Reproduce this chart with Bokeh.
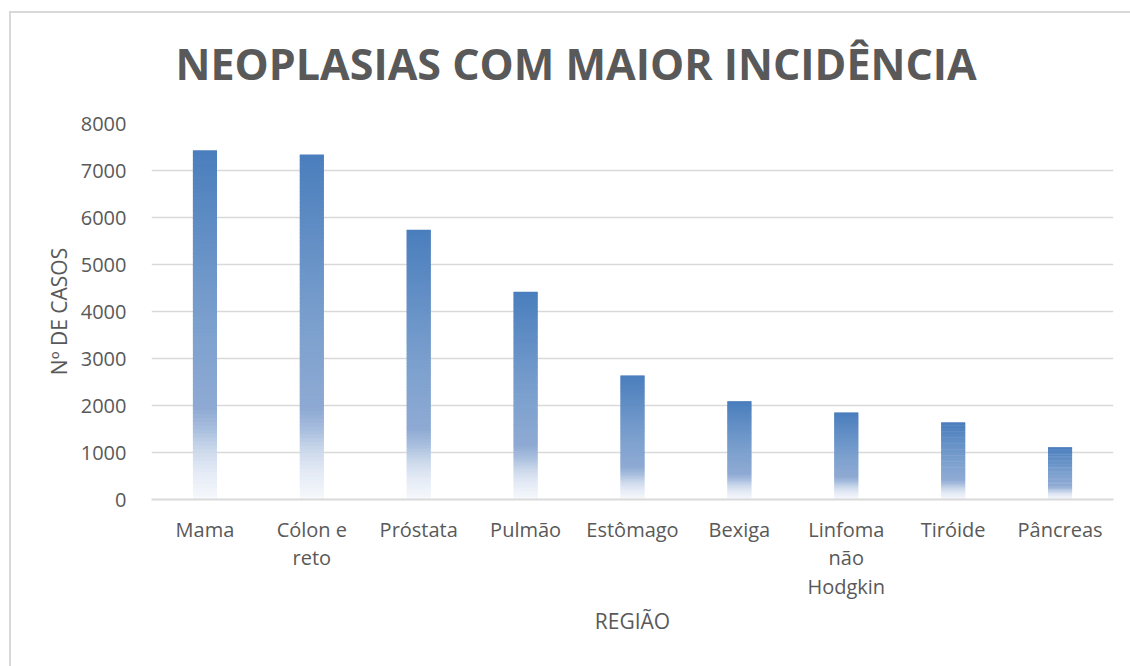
import numpy as np
from bokeh.plotting import figure
from bokeh.models import Range1d, FixedTicker, ColumnDataSource
from bokeh.embed import file_html
from bokeh.resources import INLINE

# ---- data ----
categories = ["Mama", "Cólon e reto", "Próstata", "Pulmão", "Estômago",
              "Bexiga", "Linfoma não Hodgkin", "Tiróide", "Pâncreas"]
tick_labels = ["Mama", "Cólon e\nreto", "Próstata", "Pulmão", "Estômago",
               "Bexiga", "Linfoma\nnão\nHodgkin", "Tiróide", "Pâncreas"]
casos = [7430, 7340, 5740, 4420, 2640, 2090, 1850, 1640, 1110]
y_ticks = [0, 1000, 2000, 3000, 4000, 5000, 6000, 7000, 8000]

TITLE = "NEOPLASIAS COM MAIOR INCIDÊNCIA"
X_LABEL = "REGIÃO"
Y_LABEL = "Nº DE CASOS"

# ---- style: vertical gradient stops (fraction of bar height from bottom) ----
grad_pos = [0.0, 0.08, 0.145, 0.2, 0.26, 0.5, 1.0]
grad_rgb = [(246, 249, 253), (228, 234, 245), (202, 215, 234), (169, 191, 223),
            (142, 170, 211), (124, 160, 206), (74, 126, 189)]


def grad(f):
    r = np.interp(f, grad_pos, [c[0] for c in grad_rgb])
    g = np.interp(f, grad_pos, [c[1] for c in grad_rgb])
    b = np.interp(f, grad_pos, [c[2] for c in grad_rgb])
    return "#%02x%02x%02x" % (int(round(r)), int(round(g)), int(round(b)))


N = 90
BAR_W = 0.225
left, right, bottom, top, color = [], [], [], [], []
for i, v in enumerate(casos):
    for k in range(N):
        left.append(i - BAR_W / 2)
        right.append(i + BAR_W / 2)
        bottom.append(v * k / N)
        top.append(min(v, v * (k + 1.8) / N))
        color.append(grad((k + 0.5) / N))
src = ColumnDataSource(dict(left=left, right=right, bottom=bottom, top=top, color=color))

p = figure(width=1140, height=676, output_backend="svg", toolbar_location=None,
           x_range=Range1d(-0.5, len(categories) - 0.5), y_range=Range1d(0, 8000),
           min_border_left=151, min_border_right=27, min_border_top=123,
           min_border_bottom=177)
# chart-area border (left and top edges) drawn behind the transparent canvas
p.styles = {
    "position": "fixed", "left": "0px", "top": "0px",
    "background": ("linear-gradient(#d9d9d9, #d9d9d9) 9px 11px / 2px 100% no-repeat, "
                   "linear-gradient(#d9d9d9, #d9d9d9) 9px 11px / 100% 2px no-repeat, "
                   "#ffffff"),
}
p.outline_line_color = None
p.background_fill_color = "white"
p.border_fill_color = None

p.quad(left="left", right="right", bottom="bottom", top="top", source=src,
       fill_color="color", line_color=None)

# title
p.title.text = TITLE
p.title.text_font = "Open Sans"
p.title.text_font_size = "43px"
p.title.text_font_style = "bold"
p.title.text_color = "#595959"
p.title.align = "left"
p.title.offset = 24
p.title.standoff = 62

# axes
p.xaxis.ticker = FixedTicker(ticks=list(range(len(categories))))
p.xaxis.major_label_overrides = {i: t for i, t in enumerate(tick_labels)}
p.yaxis.ticker = FixedTicker(ticks=y_ticks)
for ax in (p.xaxis, p.yaxis):
    ax.major_tick_line_color = None
    ax.minor_tick_line_color = None
    ax.major_label_text_font = "Open Sans"
    ax.major_label_text_font_size = "20px"
    ax.major_label_text_color = "#595959"
    ax.axis_label_text_font = "Open Sans"
    ax.axis_label_text_font_size = "21px"
    ax.axis_label_text_font_style = "normal"
    ax.axis_label_text_color = "#595959"
p.xaxis.axis_line_color = "#d9d9d9"
p.xaxis.axis_line_width = 2
p.yaxis.axis_line_color = None
p.xaxis.major_label_standoff = 10
p.xaxis.major_label_text_line_height = 1.066
p.yaxis.major_label_standoff = 19
p.xaxis.axis_label = X_LABEL
p.yaxis.axis_label = Y_LABEL
p.xaxis.axis_label_standoff = 4
p.yaxis.axis_label_standoff = 5

p.xgrid.grid_line_color = None
p.ygrid.grid_line_color = "#d9d9d9"
p.ygrid.grid_line_width = 1.5

open("out.html", "w").write(file_html(p, INLINE))
